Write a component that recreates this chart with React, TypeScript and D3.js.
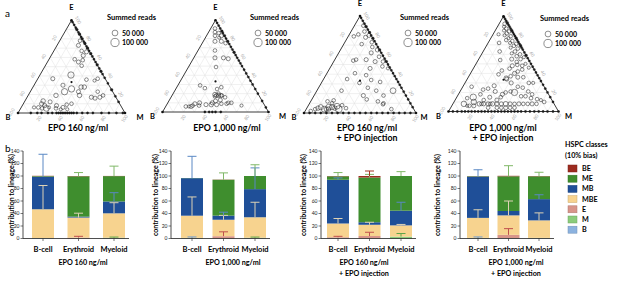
import React from "react";
import * as d3 from "d3";

type Pt = [number, number, number, number]; // B %, M %, E %, summed reads (thousands)

const TERN_EPO160: Pt[] = [
  [0,2,98,5],[0,5,95,8],[0,8,92,5],[0,10,90,10],[0,13,87,5],[0,15,85,20],[0,18,82,5],[0,20,80,10],[0,23,77,5],[0,25,75,15],[0,28,72,5],[0,30,70,10],[0,33,67,5],[0,36,64,20],[0,39,61,5],[0,42,58,8],[0,45,55,5],[0,48,52,15],[0,52,48,5],[0,55,45,10],[0,58,42,5],[0,62,38,8],[0,68,32,5],[0,75,25,10],[0,82,18,5],[0,88,12,5],
  [3,19,78,20],[7,20,73,25],[7,26,67,20],[3,31,66,25],[8,30,62,25],[18,24,58,20],[16,29,55,25],[15,34,51,20],[11,32,57,20],[30,29,41,60],[43,27,30,25],[49,14,37,25],[27,45,28,30],[32,45,23,25],[24,48,28,30],[33,48,19,30],[23,60,17,25],[20,64,16,25],[15,68,17,25],[11,70,19,20],[7,56,37,20],[11,54,35,15],[18,46,36,20],[37,37,26,60],[45,32,23,60],[55,26,19,30],[70,17,13,30],[73,17,10,25],[71,21,8,25],[71,24,5,50],[60,32,8,25],[55,39,6,25],[50,41,9,20],[45,45,10,20],[64,24,12,25],[14,63,23,20],[78,16,6,20],[82,12,6,15],[75,20,5,20],[68,26,6,15],[62,33,5,20],[58,38,4,15],[52,44,4,15],
  [88,12,0,5],[82,18,0,5],[78,22,0,5],[72,28,0,8],[68,32,0,5],[64,36,0,5],[62,38,0,5],[60,40,0,8],[58,42,0,5],[56,44,0,5],[54,46,0,5],[52,48,0,5],[50,50,0,5],[48,52,0,8],[45,55,0,5],[40,60,0,5],[35,65,0,5],[30,70,0,8],[22,78,0,5],[15,85,0,5],[8,92,0,5],[2,98,0,5],
];

const TERN_EPO1000: Pt[] = [
  [0,3,97,5],[0,6,94,8],[0,9,91,5],[0,12,88,10],[0,14,86,5],[0,17,83,15],[0,20,80,5],[0,23,77,10],[0,26,74,5],[0,29,71,8],[0,32,68,5],[0,35,65,10],[0,38,62,5],[0,41,59,8],[0,44,56,5],[0,47,53,5],[0,50,50,8],[0,54,46,5],[0,58,42,5],[0,62,38,5],[0,66,34,8],[0,70,30,5],[0,75,25,5],[0,80,20,8],[0,88,12,5],[0,95,5,5],
  [5,4,91,20],[7,6,87,20],[4,10,86,20],[9,8,83,20],[3,14,83,25],[6,13,81,15],[12,11,77,25],[6,17,77,25],[3,22,75,20],
  [17,16,67,20],[21,20,59,25],[13,28,59,25],[9,33,58,25],[25,26,49,20],[50,21,29,20],[47,27,26,20],[31,42,27,20],[40,42,18,25],[38,44,18,25],[36,46,18,25],[41,40,19,30],[37,43,20,20],[42,41,17,20],[35,47,18,20],[44,44,12,25],[39,48,13,25],[48,42,10,25],[33,51,16,20],[60,30,10,25],[65,26,9,25],[68,25,7,20],[70,24,6,25],[62,31,7,20],[55,37,8,25],[50,42,8,30],[45,47,8,25],[40,51,9,20],[35,56,9,20],[30,60,10,20],[33,57,10,20],[22,71,7,15],[75,19,6,20],[72,22,6,15],[36,39,25,20],
  [60,40,0,5],[56,44,0,5],[53,47,0,5],[50,50,0,5],[45,55,0,5],
];

const TERN_EPO160_INJ: Pt[] = [
  [0,2,98,5],[0,5,95,8],[0,8,92,5],[0,11,89,10],[0,14,86,5],[0,17,83,10],[0,20,80,5],[0,23,77,10],[0,26,74,5],[0,29,71,8],[0,32,68,5],[0,35,65,10],[0,38,62,5],[0,41,59,8],[0,44,56,5],[0,47,53,10],[0,50,50,5],[0,53,47,8],[0,56,44,5],[0,59,41,8],[0,62,38,5],[0,65,35,8],[0,68,32,5],[0,71,29,5],[0,74,26,8],[0,78,22,5],[0,82,18,5],[0,86,14,8],[0,90,10,5],[0,94,6,5],
  [2,8,90,20],[4,12,84,20],[2,18,80,25],[6,16,78,25],[3,24,73,20],[5,27,68,20],[2,33,65,25],[4,38,58,20],[3,44,53,20],[6,46,48,20],[2,52,46,15],
  [16,5,79,20],[11,8,81,20],[13,16,71,20],[29,17,54,20],[26,19,55,20],[17,28,55,25],[9,29,62,25],[10,37,53,25],[18,36,46,25],[34,25,41,20],[44,21,35,20],[25,36,39,20],[23,43,34,20],[16,52,32,20],[9,68,23,50],[38,44,18,25],[37,49,14,20],[24,53,23,20],[55,22,23,20],[67,20,13,20],[20,62,18,20],[30,44,26,20],[35,34,31,20],[24,66,10,20],[20,76,4,20],[25,66,9,20],[28,60,12,20],
  [80,16,4,50],[67,29,4,70],[82,12,6,40],[75,19,6,50],[93,5,2,20],[67,26,7,50],[72,22,6,40],[78,18,4,30],[70,25,5,30],[85,10,5,30],[62,30,8,20],[73,15,12,20],[76,20,4,30],[60,35,5,20],[88,8,4,20],[70,20,10,20],
  [95,5,0,5],[90,10,0,5],[85,15,0,5],[80,20,0,8],[75,25,0,5],[70,30,0,5],[65,35,0,8],[60,40,0,5],[55,45,0,5],[50,50,0,8],[45,55,0,5],[40,60,0,5],[35,65,0,5],[30,70,0,8],[25,75,0,5],[20,80,0,5],[15,85,0,5],[10,90,0,5],[5,95,0,5],
];

const TERN_EPO1000_INJ: Pt[] = [
  [0,1,99,5],[0,3,97,8],[0,5,95,5],[0,7,93,10],[0,9,91,5],[0,11,89,8],[0,13,87,5],[0,15,85,10],[0,17,83,5],[0,19,81,8],[0,21,79,5],[0,23,77,10],[0,25,75,5],[0,27,73,8],[0,29,71,5],[0,31,69,10],[0,33,67,5],[0,35,65,8],[0,38,62,5],[0,41,59,10],[0,44,56,5],[0,47,53,8],[0,50,50,5],[0,53,47,8],[0,56,44,5],[0,59,41,5],[0,62,38,8],[0,65,35,5],[0,68,32,5],[0,72,28,8],[0,76,24,5],[0,80,20,5],[0,85,15,5],[0,90,10,5],
  [3,5,92,20],[5,6,89,15],[4,9,87,20],[7,8,85,15],[3,13,84,20],[6,12,82,20],[9,11,80,15],[4,17,79,20],[7,16,77,15],[10,15,75,20],[5,21,74,20],[8,20,72,15],[3,26,71,20],[6,25,69,20],[10,23,67,15],[4,30,66,20],[8,29,63,20],[12,27,61,15],[5,35,60,20],[9,33,58,20],[3,40,57,15],[7,38,55,20],[12,36,52,20],[5,45,50,15],[9,43,48,20],[4,50,46,15],
  [15,30,55,25],[18,34,48,25],[13,38,49,20],[20,40,40,25],[16,42,42,20],[22,33,45,20],[11,45,44,20],[19,45,36,25],[25,38,37,20],[14,50,36,20],[28,42,30,25],[24,50,26,20],[20,55,25,20],[30,27,43,20],[35,26,39,20],[26,20,54,20],[22,15,63,20],[18,10,72,20],[14,5,81,15],[30,36,34,25],[12,58,30,20],[8,62,30,15],[17,62,21,20],
  [30,35,35,30],[47,32,21,25],[57,20,23,20],[62,20,18,20],[70,15,15,60],[72,18,10,45],[74,20,6,25],[68,24,8,30],[64,28,8,25],[60,32,8,25],[56,36,8,30],[52,40,8,25],[48,44,8,25],[44,48,8,35],[40,52,8,25],[36,56,8,20],[32,60,8,25],[28,64,8,20],[24,68,8,20],[20,72,8,25],[16,76,8,20],[66,26,8,20],[58,34,8,20],[50,38,12,25],[45,40,15,20],[55,30,15,25],[62,26,12,20],[78,16,6,20],[80,14,6,15],[54,42,4,20],[50,46,4,20],[46,50,4,25],[42,54,4,20],[38,58,4,20],[62,34,4,20],[82,10,8,45],[76,10,14,20],[42,40,18,25],[38,42,20,20],[33,46,21,20],[30,50,20,60],[26,58,16,20],[22,62,16,20],[18,68,14,20],[13,74,13,20],[10,78,12,15],[8,82,10,20],[15,67,18,20],[52,24,24,20],[45,28,27,25],[66,8,26,20],
  [96,4,0,5],[92,8,0,5],[88,12,0,5],[85,15,0,8],[82,18,0,5],[79,21,0,5],[76,24,0,8],[73,27,0,5],[70,30,0,5],[67,33,0,8],[64,36,0,5],[61,39,0,5],[58,42,0,8],[55,45,0,5],[52,48,0,5],[49,51,0,8],[46,54,0,5],[43,57,0,5],[40,60,0,8],[37,63,0,5],[34,66,0,5],[30,70,0,8],[26,74,0,5],[22,78,0,5],[18,82,0,5],[14,86,0,5],[10,90,0,5],[5,95,0,5],
];

const TICKS = [20, 40, 60, 80, 100];
const READ_LEGEND = [50, 100];
const READ_LEGEND_LABELS = ["50 000", "100 000"];

const LINEAGES = ["B-cell", "Erythroid", "Myeloid"];
const CLASSES = ["B", "M", "E", "MBE", "MB", "ME", "BE"]; // stacking order, bottom -> top
const LEGEND_ORDER = ["BE", "ME", "MB", "MBE", "E", "M", "B"];
const Y_TICKS = [0, 20, 40, 60, 80, 100, 120, 140];

// rows follow CLASSES, columns follow LINEAGES
const BAR_EPO160_MEAN = [[0.5,0,0.3],[0.3,0,1],[0,1.5,0],[46,32,39],[52,1.5,19],[1,64.5,40.5],[0.5,0.5,0.3]];
const BAR_EPO160_SD = [[0,0,0],[0,0,1],[0,2,0],[38,7,17],[36,0,14],[0,6,16],[0,0,0]];
const BAR_EPO1000_MEAN = [[0.5,0,0.3],[0.5,0,1],[0,3.7,0],[35.5,26.3,32.7],[60,6.6,45],[0.3,57.4,21],[0,0.3,0]];
const BAR_EPO1000_SD = [[2,0,0],[0,0,1],[0,7,0],[30,7,24],[35,5.5,34],[0,11,18],[0,0,0]];
const BAR_EPO160_INJ_MEAN = [[0.5,0,0],[0,0.3,3],[1.5,3.7,0],[22,18,18],[70,4,23.5],[5.5,71.6,55.5],[0.5,2.4,0]];
const BAR_EPO160_INJ_SD = [[0,0,0],[0,0,5],[1.5,6,0],[8,4,1.5],[3,0,13.5],[6,5,7],[0,8,0]];
const BAR_EPO1000_INJ_MEAN = [[0.5,0.5,0.5],[0.5,0,0.5],[0,5.3,0],[32,31.2,28],[66,7,34],[0.7,55.5,36.5],[0.3,0.8,0.5]];
const BAR_EPO1000_INJ_SD = [[2,0,0],[0,0,0],[0,10,0],[13,23,12],[11,0,7],[0,17,6.5],[0,0,0]];

const COLORS: Record<string, string> = {
  B: "#8cb2df", M: "#8bcc7b", E: "#d8958a", MBE: "#f7d38f", MB: "#1f4f98", ME: "#3f8e2e", BE: "#9c2b1f",
};
const ERR_COLORS: Record<string, string> = {
  B: "#6f9bd0", M: "#5fa54a", E: "#c0504d", MBE: "#ddd2b5", MB: "#5a88c4", ME: "#80b868", BE: "#a53525",
};

const FONT = "Lato, 'Open Sans', sans-serif";

type TernProps = { data: Pt[]; bx: number; by: number; w: number; title: string[]; titleX: number; legX: number; legY: number; mOff: number };

function Ternary({ data, bx, by, w, title, titleX, legX, legY, mOff }: TernProps) {
  const h = (w * Math.sqrt(3)) / 2;
  const xs = d3.scaleLinear().domain([0, 1]).range([bx, bx + w]);
  const ys = d3.scaleLinear().domain([0, 1]).range([by, by - h]);
  const r = d3.scaleSqrt().domain([0, 100]).range([0, 4.1]);
  const pos = (b: number, m: number, e: number): [number, number] => {
    const s = b + m + e;
    const mm = m / s, ee = e / s;
    return [xs(mm + ee / 2), ys(ee)];
  };
  const grid: [number, number, number, number][] = [];
  for (let k = 1; k < 10; k++) {
    const f = k / 10;
    const a1 = pos(1 - f, 0, f), a2 = pos(0, 1 - f, f);
    const b1 = pos(1 - f, f, 0), b2 = pos(0, f, 1 - f);
    const c1 = pos(f, 1 - f, 0), c2 = pos(f, 0, 1 - f);
    grid.push([a1[0], a1[1], a2[0], a2[1]], [b1[0], b1[1], b2[0], b2[1]], [c1[0], c1[1], c2[0], c2[1]]);
  }
  const V_B = pos(1, 0, 0), V_M = pos(0, 1, 0), V_E = pos(0, 0, 1);
  const tri = `M${V_B[0]},${V_B[1]}L${V_M[0]},${V_M[1]}L${V_E[0]},${V_E[1]}Z`;
  const cen = pos(1, 1, 1);
  return (
    <g>
      {grid.map((g, i) => (
        <line key={i} x1={g[0]} y1={g[1]} x2={g[2]} y2={g[3]} stroke="#e0e0e0" strokeWidth={0.5} />
      ))}
      <path d={tri} fill="none" stroke="#3a3a3a" strokeWidth={1} />
      {TICKS.map((t) => {
        const [x, y] = pos(100 - t, t, 0);
        return <text key={"bm" + t} x={x} y={y + 7} fontSize={4.6} fill="#a8a8a8" textAnchor="middle" transform={`rotate(-55 ${x} ${y + 6})`} fontFamily={FONT}>{t}</text>;
      })}
      {TICKS.map((t) => {
        const [x, y] = pos(t, 0, 100 - t);
        return <text key={"bl" + t} x={x - 5} y={y} fontSize={4.6} fill="#a8a8a8" textAnchor="middle" transform={`rotate(-60 ${x - 5} ${y})`} fontFamily={FONT}>{t}</text>;
      })}
      {TICKS.map((t) => {
        const [x, y] = pos(0, 100 - t, t);
        return <text key={"br" + t} x={x + 6} y={y + 1} fontSize={4.6} fill="#a8a8a8" textAnchor="middle" transform={`rotate(60 ${x + 6} ${y})`} fontFamily={FONT}>{t}</text>;
      })}
      {data.map((d, i) => {
        const [x, y] = pos(d[0], d[1], d[2]);
        const onEdge = d[0] === 0 || d[1] === 0 || d[2] === 0;
        return onEdge ? (
          <circle key={i} cx={x} cy={y} r={d[3] >= 10 ? 1.4 : 1.15} fill="#1a1a1a" stroke="#1a1a1a" strokeWidth={0.3} />
        ) : (
          <circle key={i} cx={x} cy={y} r={r(d[3])} fill="none" stroke="#2a2a2a" strokeWidth={0.55} />
        );
      })}
      <circle cx={cen[0]} cy={cen[1]} r={1.1} fill="#111" />
      {[V_B, V_M, V_E].map((v, i) => <circle key={"v" + i} cx={v[0]} cy={v[1]} r={1.3} fill="#111" />)}
      <text x={V_E[0]} y={V_E[1] - 10} fontSize={7.5} fontWeight="bold" textAnchor="middle" fontFamily={FONT}>E</text>
      <text x={V_B[0] - 10} y={V_B[1] + 7} fontSize={7.5} fontWeight="bold" textAnchor="middle" fontFamily={FONT}>B</text>
      <text x={V_M[0] + mOff} y={V_M[1] + 7} fontSize={7.5} fontWeight="bold" textAnchor="middle" fontFamily={FONT}>M</text>
      {title.map((t, i) => (
        <text key={"t" + i} x={titleX} y={131 + i * 10} fontSize={8.8} fontWeight="bold" textAnchor="middle" fontFamily={FONT}>{t}</text>
      ))}
      <text x={legX} y={legY} fontSize={7.5} fontWeight="bold" fontFamily={FONT}>Summed reads</text>
      {READ_LEGEND.map((v, i) => (
        <g key={"lg" + i}>
          <circle cx={legX + 8} cy={legY + 13 + i * 9.5} r={r(v)} fill="none" stroke="#444" strokeWidth={0.6} />
          <text x={legX + 15} y={legY + 15.5 + i * 9.5} fontSize={7} fontWeight="bold" fontFamily={FONT}>{READ_LEGEND_LABELS[i]}</text>
        </g>
      ))}
    </g>
  );
}

type BarProps = { mean: number[][]; sd: number[][]; axisX: number; c1: number; c3: number; labelX: number; title: string[]; titleX: number };

function Bars({ mean, sd, axisX, c1, c3, labelX, title, titleX }: BarProps) {
  const y = d3.scaleLinear().domain([0, 140]).range([238.5, 151]);
  const x = d3.scalePoint<string>().domain(LINEAGES).range([c1, c3]);
  const bw = 22;
  const stack = d3.stack<number>().keys(CLASSES.map((_, i) => String(i))).value((j, key) => mean[+key][j]);
  const series = stack([0, 1, 2]);
  return (
    <g fontFamily={FONT}>
      {series.map((s, ci) =>
        s.map((seg, j) => (
          <rect key={ci + "-" + j} x={x(LINEAGES[j])! - bw / 2} y={y(seg[1])} width={bw} height={Math.max(0, y(seg[0]) - y(seg[1]))} fill={COLORS[CLASSES[ci]]} />
        ))
      )}
      {series.map((s, ci) =>
        s.map((seg, j) => {
          const v = sd[ci][j];
          if (!v) return null;
          const cx = x(LINEAGES[j])!;
          const col = ERR_COLORS[CLASSES[ci]];
          return (
            <g key={"e" + ci + "-" + j}>
              <line x1={cx} x2={cx} y1={y(seg[1])} y2={y(seg[1] + v)} stroke={col} strokeWidth={1} />
              <line x1={cx - 4.5} x2={cx + 4.5} y1={y(seg[1] + v)} y2={y(seg[1] + v)} stroke={col} strokeWidth={1} />
            </g>
          );
        })
      )}
      <line x1={axisX} x2={axisX} y1={y(0)} y2={y(140)} stroke="#222" strokeWidth={0.8} />
      {Y_TICKS.map((t) => (
        <g key={t}>
          <line x1={axisX - 2.5} x2={axisX} y1={y(t)} y2={y(t)} stroke="#222" strokeWidth={0.6} />
          <text x={axisX - 3.5} y={y(t) + 1.8} fontSize={5} textAnchor="end" fill="#222">{t}</text>
        </g>
      ))}
      <line x1={axisX} x2={c3 + bw / 2 + 4} y1={y(0)} y2={y(0)} stroke="#222" strokeWidth={0.8} />
      {LINEAGES.map((l) => (
        <g key={l}>
          <line x1={x(l)!} x2={x(l)!} y1={y(0)} y2={y(0) + 2.5} stroke="#222" strokeWidth={0.6} />
          <text x={x(l)!} y={252} fontSize={7.5} fontWeight="bold" textAnchor="middle">{l}</text>
        </g>
      ))}
      <text transform={`translate(${labelX},195) rotate(-90)`} fontSize={7} fontWeight="bold" textAnchor="middle" dominantBaseline="middle">contribution to lineage (%)</text>
      {title.map((t, i) => (
        <text key={i} x={titleX} y={265 + i * 11} fontSize={7.2} fontWeight="bold" textAnchor="middle">{t}</text>
      ))}
    </g>
  );
}

export default function App() {
  return (
    <svg width={617} height={281} style={{ position: "absolute", left: 0, top: 0, background: "#fff" }} fontFamily={FONT}>
      <rect width={617} height={281} fill="#fff" />
      <text x={5} y={17} fontSize={10}>a</text>
      <text x={5} y={152} fontSize={10}>b</text>
      <Ternary data={TERN_EPO160} bx={18} by={113} w={107} title={["EPO 160 ng/ml"]} titleX={78} legX={107} legY={20} mOff={15} />
      <Ternary data={TERN_EPO1000} bx={162.5} by={112} w={106} title={["EPO 1,000 ng/ml"]} titleX={227} legX={250} legY={20} mOff={14} />
      <Ternary data={TERN_EPO160_INJ} bx={304} by={113} w={112} title={["EPO 160 ng/ml", "+ EPO injection"]} titleX={367} legX={400} legY={20} mOff={8} />
      <Ternary data={TERN_EPO1000_INJ} bx={448.5} by={111.5} w={110} title={["EPO 1,000 ng/ml", "+ EPO injection"]} titleX={503} legX={540} legY={21} mOff={10} />

      <Bars mean={BAR_EPO160_MEAN} sd={BAR_EPO160_SD} axisX={23} c1={43} c3={114} labelX={12} title={["EPO 160 ng/ml"]} titleX={83} />
      <Bars mean={BAR_EPO1000_MEAN} sd={BAR_EPO1000_SD} axisX={171} c1={192} c3={255} labelX={156} title={["EPO 1,000 ng/ml"]} titleX={233} />
      <Bars mean={BAR_EPO160_INJ_MEAN} sd={BAR_EPO160_INJ_SD} axisX={321} c1={338} c3={401} labelX={304} title={["EPO 160 ng/ml", "+ EPO injection"]} titleX={364} />
      <Bars mean={BAR_EPO1000_INJ_MEAN} sd={BAR_EPO1000_INJ_SD} axisX={460} c1={478} c3={539} labelX={438} title={["EPO 1,000 ng/ml", "+ EPO injection"]} titleX={516} />

      <g fontFamily={FONT}>
        <text x={565} y={147} fontSize={7.2} fontWeight="bold">HSPC classes</text>
        <text x={565} y={158} fontSize={7.2} fontWeight="bold">(10% bias)</text>
        {LEGEND_ORDER.map((c, i) => (
          <g key={c}>
            <rect x={568} y={165 + i * 10.2} width={9} height={7} fill={COLORS[c]} stroke={d3.color(COLORS[c])!.darker(0.6).toString()} strokeWidth={0.5} />
            <text x={582} y={171 + i * 10.2} fontSize={7.2} fontWeight="bold">{c}</text>
          </g>
        ))}
      </g>
    </svg>
  );
}
